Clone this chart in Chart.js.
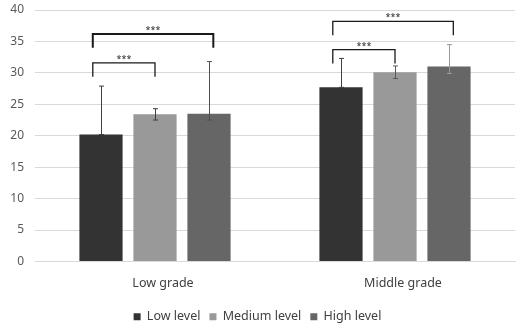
<!DOCTYPE html>
<html>
<head>
<meta charset="utf-8">
<script src="https://cdn.jsdelivr.net/npm/chart.js@4"></script>
<style>
    html, body { margin: 0; padding: 0; background: #fff; }
    #wrap { width: 522px; height: 330px; }
</style>
</head>
<body>
<div id="wrap"><canvas id="gradeChart"></canvas></div>
<script>
// Data
const categories = ['Low grade', 'Middle grade'];
const seriesNames = ['Low level', 'Medium level', 'High level'];
const lowLevel = [20.2, 27.7];
const mediumLevel = [23.4, 30.1];
const highLevel = [23.5, 31.0];

// error bar ends (upper / lower)
const lowLevelUpper = [27.9, 32.3];
const lowLevelLower = [20.2, 27.7];
const mediumLevelUpper = [24.3, 31.1];
const mediumLevelLower = [22.5, 29.1];
const highLevelUpper = [31.8, 34.5];
const highLevelLower = [22.5, 29.9];

// significance brackets: [category, from series, to series, line value, leg end value]
const brackets = [
    [0, 0, 1, 31.6, 29.4],
    [0, 0, 2, 36.2, 34.0],
    [1, 0, 1, 33.7, 31.5],
    [1, 0, 2, 38.2, 36.0]
];
const bracketLabel = '***';
const yTicks = [0, 5, 10, 15, 20, 25, 30, 35, 40];

const fontFamily = "'Noto Sans', 'Open Sans', sans-serif";
const barColors = ['#333333', '#999999', '#666666'];
const errColors = [['#404040', '#404040'], ['#404040', '#595959'], ['#505050', '#9a9a9a']];
const bracketWidths = [1.3, 2, 1.3, 1.3];
const legOffsets = [-0.19, 0, 0.1]; // fraction of bar width, per series

const uppers = [lowLevelUpper, mediumLevelUpper, highLevelUpper];
const lowers = [lowLevelLower, mediumLevelLower, highLevelLower];

// error bars + brackets
const overlayPlugin = {
    id: 'overlay',
    afterDatasetsDraw(chart) {
        const ctx = chart.ctx;
        const y = chart.scales.y;
        ctx.save();
        for (let s = 0; s < 3; s++) {
            const meta = chart.getDatasetMeta(s);
            meta.data.forEach((bar, i) => {
                const top = y.getPixelForValue(uppers[s][i]);
                const bot = y.getPixelForValue(lowers[s][i]);
                const x = Math.round(bar.x) + 0.5;
                ctx.strokeStyle = errColors[s][i];
                ctx.lineWidth = 1;
                ctx.beginPath();
                ctx.moveTo(x, top); ctx.lineTo(x, bot);
                ctx.moveTo(x - 2.5, top); ctx.lineTo(x + 2.5, top);
                ctx.moveTo(x - 2.5, bot); ctx.lineTo(x + 2.5, bot);
                ctx.stroke();
            });
        }
        brackets.forEach((b, k) => {
            const [cat, from, to, lineVal, legVal] = b;
            const b1 = chart.getDatasetMeta(from).data[cat];
            const b2 = chart.getDatasetMeta(to).data[cat];
            const x1 = b1.x + b1.width * legOffsets[from];
            const x2 = b2.x + b2.width * legOffsets[to];
            const yl = y.getPixelForValue(lineVal);
            const yg = y.getPixelForValue(legVal);
            ctx.strokeStyle = '#1a1a1a';
            ctx.lineWidth = bracketWidths[k];
            ctx.beginPath();
            ctx.moveTo(x1, yg); ctx.lineTo(x1, yl); ctx.lineTo(x2, yl); ctx.lineTo(x2, yg);
            ctx.stroke();
            ctx.fillStyle = '#262626';
            ctx.font = "9px " + fontFamily;
            ctx.textAlign = 'center';
            ctx.textBaseline = 'alphabetic';
            ctx.fillText(bracketLabel, (x1 + x2) / 2, yl - 1);
        });
        ctx.restore();
    }
};

const data = [lowLevel, mediumLevel, highLevel];
const ctx = document.getElementById('gradeChart').getContext('2d');
const gradeChart = new Chart(ctx, {
    type: 'bar',
    data: {
        labels: categories,
        datasets: seriesNames.map((name, s) => ({
            label: name,
            data: data[s],
            backgroundColor: barColors[s],
            borderWidth: 0,
            categoryPercentage: 0.675,
            barPercentage: 0.8
        }))
    },
    options: {
        responsive: true,
        maintainAspectRatio: false,
        animation: false,
        layout: { padding: { top: 10, right: 7, left: 0, bottom: -3 } },
        plugins: {
            tooltip: { enabled: false },
            legend: {
                position: 'bottom',
                labels: {
                    boxWidth: 7,
                    boxHeight: 7,
                    padding: 9,
                    color: '#404040',
                    font: { family: fontFamily, size: 12.5 }
                }
            }
        },
        scales: {
            x: {
                grid: { display: false, drawTicks: false },
                border: { color: '#d9d9d9' },
                ticks: {
                    color: '#404040',
                    padding: 14,
                    labelOffset: 8,
                    font: { family: fontFamily, size: 12.5 }
                },
                afterFit(scale) { scale.height = 40; }
            },
            y: {
                min: 0,
                max: 40,
                afterBuildTicks(scale) { scale.ticks = yTicks.map(v => ({ value: v })); },
                grid: { color: '#d9d9d9', drawTicks: true, tickLength: 11, tickColor: 'rgba(0,0,0,0)' },
                border: { display: false },
                ticks: {
                    color: '#595959',
                    padding: 0,
                    font: { family: fontFamily, size: 12 }
                },
                afterFit(scale) { scale.width = 35; }
            }
        }
    },
    plugins: [overlayPlugin]
});
</script>
</body>
</html>
